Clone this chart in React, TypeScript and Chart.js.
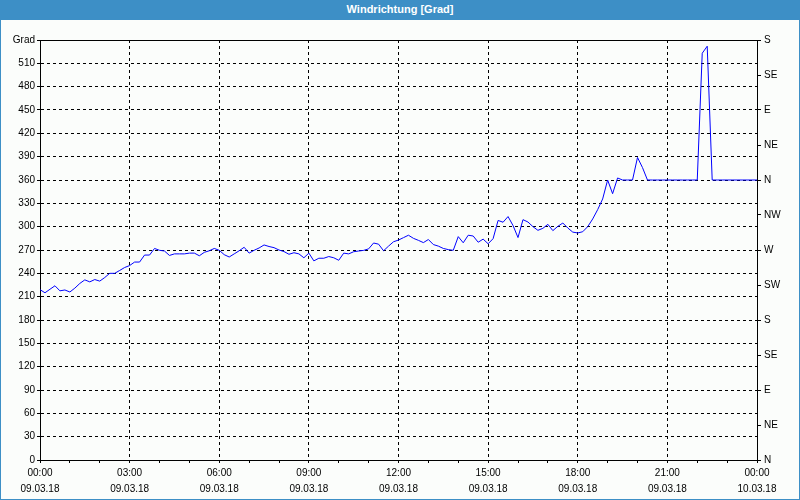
import React, { useEffect, useRef } from 'react';
import { Chart, registerables } from 'chart.js';

Chart.register(...registerables);

// Wind direction in degrees, one reading every 10 minutes from 09.03.18 00:00 to 10.03.18 00:00
const degrees: number[] = [
  219, 215, 219.5, 224, 217.5, 218.6, 216, 221, 227, 231.6,
  229, 232, 230, 234.6, 240, 240, 243.7, 247.5, 250, 254.5,
  254.5, 263.5, 263.5, 272, 269.6, 268.7, 263, 265, 265, 265,
  266, 266, 262.6, 267, 269, 272, 269.6, 264, 261, 265,
  269, 273.5, 266, 269.6, 272.6, 276.5, 274.5, 273, 270, 268,
  264.5, 266.5, 265, 260, 266, 256, 259.4, 259.4, 261.6, 260,
  256.8, 266, 265, 267.8, 268.7, 269.5, 271.5, 279, 277.5, 269,
  275, 280.6, 282.8, 285.9, 289, 285, 282.4, 279.5, 283.5, 277,
  275, 272, 270.5, 269.6, 287.2, 279.3, 289, 288, 280, 284,
  278, 284.6, 308, 305.7, 313, 301.5, 286, 309, 306, 300,
  295.3, 297.9, 303, 294.9, 300.4, 304.7, 298.3, 293, 291.9, 293.5,
  300, 309.9, 321.9, 335.6, 360, 342.4, 362.6, 360, 360, 360,
  389, 376, 360, 360, 360, 360, 360, 360, 360, 360,
  360, 360, 360, 523, 532, 360, 360, 360, 360, 360,
  360, 360, 360, 360, 360,
];

// minutes since 09.03.18 00:00 for each reading (10-minute interval)
const sampleMinutes: number[] = degrees.map((_, i) => i * 10);

const timeTickLabels: string[] = ['00:00', '03:00', '06:00', '09:00', '12:00', '15:00', '18:00', '21:00', '00:00'];
const dateTickLabels: string[] = ['09.03.18', '09.03.18', '09.03.18', '09.03.18', '09.03.18', '09.03.18', '09.03.18', '09.03.18', '10.03.18'];
const compassTickLabels: string[] = ['N', 'NE', 'E', 'SE', 'S', 'SW', 'W', 'NW', 'N', 'NE', 'E', 'SE', 'S'];
const unitLabel = 'Grad';
const titleText = 'Windrichtung [Grad]';

const FONT = "'Liberation Sans', Arial, sans-serif";
const BG = '#fbfdfb';
const BLUE_FRAME = '#3d8fc6';

const topFrame = {
  id: 'topFrame',
  afterDraw(chart: any) {
    const { ctx, chartArea } = chart;
    ctx.save();
    ctx.strokeStyle = '#000';
    ctx.lineWidth = 1;
    ctx.beginPath();
    const y = Math.round(chartArea.top) + 0.5;
    ctx.moveTo(chartArea.left, y);
    ctx.lineTo(chartArea.right + 1, y);
    ctx.stroke();
    ctx.restore();
  },
};

export default function App() {
  const canvasRef = useRef<HTMLCanvasElement | null>(null);

  useEffect(() => {
    document.body.style.margin = '0';
    const canvas = canvasRef.current;
    if (!canvas) return;
    const chart = new Chart(canvas, {
      type: 'line',
      data: {
        datasets: [
          {
            data: degrees.map((v, i) => ({ x: sampleMinutes[i], y: v })),
            borderColor: '#0000ff',
            borderWidth: 1,
            pointRadius: 0,
            tension: 0,
            fill: false,
            yAxisID: 'y',
          },
        ],
      },
      options: {
        animation: false,
        responsive: false,
        events: [],
        layout: { padding: { top: 20, left: 0, right: 0, bottom: 0 } },
        plugins: {
          legend: { display: false },
          title: { display: false },
          tooltip: { enabled: false },
        },
        scales: {
          x: {
            type: 'linear',
            position: 'bottom',
            min: 0,
            max: 1440,
            z: 1,
            afterFit: (s: any) => {
              s.height = 39;
            },
            ticks: {
              stepSize: 60,
              autoSkip: false,
              maxRotation: 0,
              padding: 2,
              color: '#000',
              font: { family: FONT, size: 10, lineHeight: 1.6 },
              callback: (v: any) => {
                const n = Number(v);
                if (n % 180 !== 0) return '';
                const idx = n / 180;
                return [timeTickLabels[idx], dateTickLabels[idx]];
              },
            },
            grid: {
              color: (c: any) => (c.tick && c.tick.value % 180 === 0 ? '#000' : 'rgba(0,0,0,0)'),
              tickColor: '#000',
              tickLength: 3,
              lineWidth: 1,
            },
            border: { display: true, color: '#000', width: 1, dash: [3, 3] },
          },
          y: {
            type: 'linear',
            position: 'left',
            min: 0,
            max: 540,
            z: 1,
            afterFit: (s: any) => {
              s.width = 39;
            },
            ticks: {
              stepSize: 30,
              padding: 2,
              color: '#000',
              font: { family: FONT, size: 10 },
              callback: (v: any) => (Number(v) === 540 ? unitLabel : String(v)),
            },
            grid: {
              color: '#000',
              tickColor: '#000',
              tickLength: 3,
              lineWidth: 1,
            },
            border: { display: true, color: '#000', width: 1, dash: [3, 3] },
          },
          y2: {
            type: 'linear',
            position: 'right',
            min: 0,
            max: 540,
            z: 1,
            afterFit: (s: any) => {
              s.width = 42;
            },
            ticks: {
              stepSize: 45,
              padding: 3,
              color: '#000',
              font: { family: FONT, size: 10 },
              callback: (v: any) => compassTickLabels[Math.round(Number(v) / 45)] ?? '',
            },
            grid: {
              drawOnChartArea: false,
              color: '#000',
              tickColor: '#000',
              tickLength: 4,
              lineWidth: 1,
            },
            border: { display: true, color: '#000', width: 1 },
          },
        },
      },
      plugins: [topFrame],
    } as any);
    return () => chart.destroy();
  }, []);

  return (
    <div
      style={{
        width: 800,
        height: 500,
        boxSizing: 'border-box',
        background: BG,
        borderLeft: `1px solid ${BLUE_FRAME}`,
        borderRight: `1px solid ${BLUE_FRAME}`,
        borderBottom: `1px solid ${BLUE_FRAME}`,
        position: 'relative',
        overflow: 'hidden',
      }}
    >
      <div
        style={{
          height: 20,
          margin: '0 -1px',
          background: BLUE_FRAME,
          color: '#fff',
          font: `bold 11px ${FONT}`,
          lineHeight: '19px',
          textAlign: 'center',
        }}
      >
        {titleText}
      </div>
      <canvas ref={canvasRef} width={798} height={479} style={{ display: 'block' }} />
    </div>
  );
}
